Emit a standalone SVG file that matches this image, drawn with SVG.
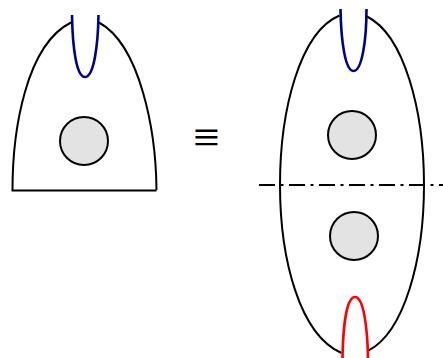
<svg xmlns="http://www.w3.org/2000/svg" width="443" height="358" viewBox="0 0 443 358">
<style>
.o{fill:none;stroke:#000;stroke-width:2}
.c{fill:#e3e3e3;stroke:#000;stroke-width:2}
.b{fill:none;stroke:#00008b;stroke-width:2.600}
.r{fill:none;stroke:#f00;stroke-width:2.600}
.e{font-family:"Liberation Serif",serif;font-size:47px;text-anchor:middle}
</style>
<g id="left">
<path class="o" d="M12.500 190C12.500 130 26 45 71 22.500"/>
<path class="o" d="M99 22.500C140 45 156 130 156.500 190"/>
<path class="o" d="M11.500 190.500H156.500"/>
<path class="b" d="M72 15C72.500 45 76 77 85 77C94 77 98 45 98.500 15"/>
<circle class="c" cx="84" cy="141" r="24"/>
</g>
<text class="e" x="206.500" y="152.500">≡</text>
<g id="right">
<path class="o" d="M339.500 15.500C300 32 280 110 280 185C280 260 300 335 341.500 353"/>
<path class="o" d="M367 16.500C404 35 424 110 424 185C424 260 404 332 368.500 350.500"/>
<path d="M259 185H443" fill="none" stroke="#000" stroke-width="2" stroke-dasharray="16 5.500 3 5.500"/>
<path class="b" d="M340.500 9C341 40 345 71 353.500 71C362 71 366.500 40 366.500 9"/>
<path class="r" d="M342.500 358C343 330 346 297 355 297C364 297 367.500 330 368 358"/>
<circle class="c" cx="352" cy="135" r="24"/>
<circle class="c" cx="354" cy="236" r="24"/>
</g>
</svg>
